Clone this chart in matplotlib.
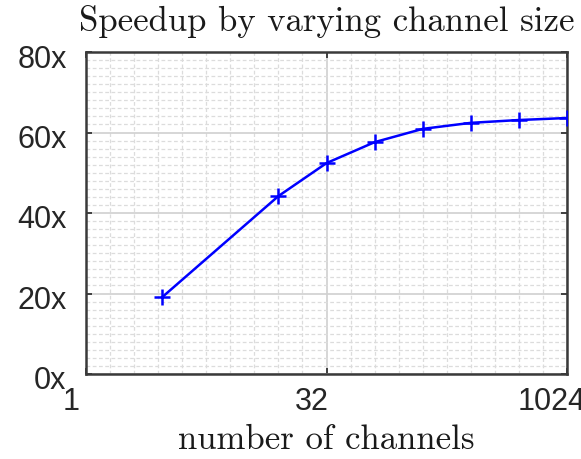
import numpy as np
import matplotlib
matplotlib.use('Agg')
import matplotlib.pyplot as plt
import matplotlib.transforms as mtrans
from matplotlib.ticker import FixedLocator, MultipleLocator, NullFormatter

channels = [3, 16, 32, 64, 128, 256, 512, 1024]
speedup = [19.1, 44.2, 52.4, 57.6, 60.9, 62.4, 63.1, 63.6]

xticks = [1, 32, 1024]
xtick_labels = ['1', '32', '1024']
yticks = [0, 20, 40, 60, 80]
ytick_labels = ['0x', '20x', '40x', '60x', '80x']

fig = plt.figure(figsize=(5.81, 4.6), dpi=100)
ax = fig.add_axes([86/581, 1 - 375/460, (567 - 86)/581, (375 - 53)/460])

ax.plot(channels, speedup, color='#0000ff', lw=1.8, marker='+', ms=11, mew=1.8, zorder=3)

ax.set_xscale('log', base=2)
ax.set_xlim(1, 1024)
ax.set_ylim(0, 80)

ax.xaxis.set_major_locator(FixedLocator(xticks))
ax.set_xticklabels(xtick_labels)
ax.xaxis.set_minor_locator(FixedLocator([2 ** (k / 2) for k in range(21)]))
ax.xaxis.set_minor_formatter(NullFormatter())
ax.yaxis.set_major_locator(FixedLocator(yticks))
ax.set_yticklabels(ytick_labels)
ax.yaxis.set_minor_locator(MultipleLocator(2))
ax.yaxis.set_minor_formatter(NullFormatter())

ax.grid(True, which='major', color='#d0d0d0', lw=1.2, ls='-')
ax.grid(True, which='minor', color='#dcdcdc', lw=0.9, ls=(0, (3, 2)))
ax.set_axisbelow(True)

ax.tick_params(which='major', direction='in', length=4, width=1.2, top=True, right=True,
               labelsize=22, colors='#262626')
ax.tick_params(which='minor', length=0)
ax.tick_params(axis='x', pad=9)
ax.tick_params(axis='y', pad=14)
for s in ax.spines.values():
    s.set_linewidth(1.8)
    s.set_color('#3a3a3a')

sans = ['Liberation Sans', 'DejaVu Sans']
for lab in ax.get_xticklabels():
    lab.set_family(sans)
    lab.set_transform(lab.get_transform() + mtrans.ScaledTranslation(-15/100, 0, fig.dpi_scale_trans))
for lab in ax.get_yticklabels():
    lab.set_family(sans)
    lab.set_transform(lab.get_transform() + mtrans.ScaledTranslation(0, -3/100, fig.dpi_scale_trans))

ax.set_title('Speedup by varying channel size', family='cmr10', fontsize=25, pad=16, color='#1a1a1a')
ax.set_xlabel('number of channels', family='cmr10', fontsize=25, labelpad=5, color='#1a1a1a')

fig.savefig('out.png', dpi=100)
